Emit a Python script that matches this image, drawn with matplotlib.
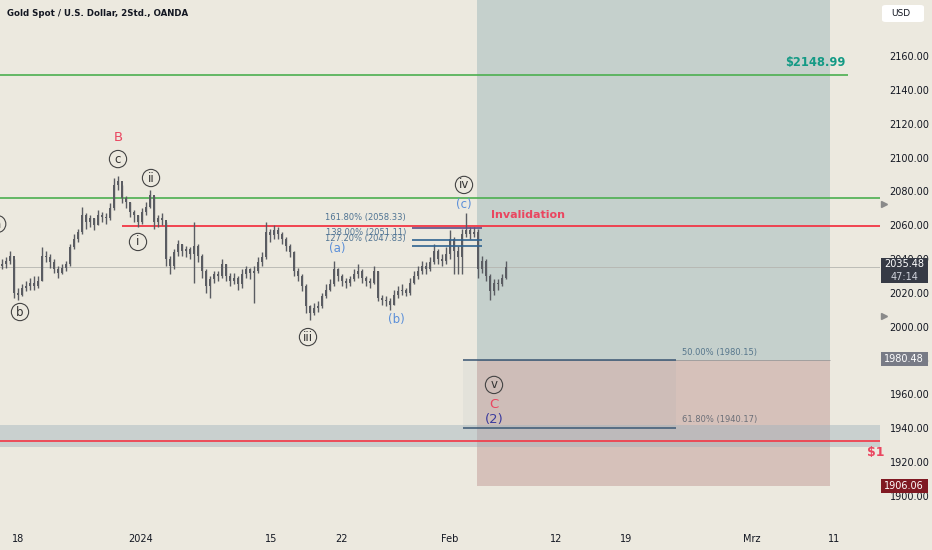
import numpy as np
import matplotlib
matplotlib.use('Agg')
import matplotlib.pyplot as plt
from matplotlib.patches import Rectangle, FancyBboxPatch
import matplotlib.transforms as mtransforms

# price bars (one bar ~ 4 px)
closes = [2037, 2039, 2042, 2020, 2019, 2023, 2024, 2026, 2024, 2027,
          2042, 2041, 2038, 2034, 2032, 2035, 2037, 2047, 2052, 2056,
          2066, 2062, 2064, 2060, 2066, 2065, 2064, 2070, 2084, 2086,
          2076, 2074, 2068, 2066, 2062, 2068, 2071, 2078, 2062, 2064,
          2063, 2040, 2036, 2044, 2049, 2045, 2046, 2043, 2048, 2042,
          2033, 2024, 2028, 2031, 2030, 2037, 2030, 2027, 2029, 2025,
          2031, 2034, 2032, 2033, 2038, 2041, 2056, 2054, 2057, 2055,
          2052, 2048, 2044, 2033, 2030, 2024, 2012, 2008, 2011, 2012,
          2018, 2022, 2025, 2034, 2030, 2027, 2026, 2028, 2031, 2033,
          2029, 2027, 2026, 2033, 2017, 2016, 2015, 2013, 2019, 2021,
          2022, 2020, 2026, 2030, 2033, 2036, 2034, 2038, 2045, 2040,
          2039, 2043, 2052, 2045, 2041, 2055, 2057, 2055, 2056, 2034,
          2039, 2030, 2021, 2026, 2025, 2029, 2035.48]
highs = [2040, 2041, 2045, 2040, 2023, 2025, 2027, 2029, 2030, 2030,
         2047, 2045, 2043, 2040, 2036, 2037, 2039, 2049, 2055, 2058,
         2071, 2067, 2066, 2064, 2069, 2068, 2067, 2073, 2088, 2089,
         2084, 2077, 2074, 2069, 2066, 2070, 2074, 2081, 2077, 2066,
         2067, 2062, 2042, 2046, 2051, 2049, 2048, 2047, 2062, 2049,
         2043, 2034, 2030, 2033, 2033, 2040, 2037, 2032, 2032, 2030,
         2034, 2036, 2035, 2036, 2041, 2044, 2062, 2058, 2060, 2059,
         2056, 2053, 2049, 2045, 2035, 2031, 2025, 2013, 2014, 2015,
         2020, 2025, 2028, 2039, 2035, 2031, 2029, 2030, 2034, 2037,
         2034, 2030, 2029, 2036, 2033, 2019, 2018, 2017, 2022, 2024,
         2025, 2023, 2029, 2033, 2036, 2039, 2038, 2041, 2049, 2046,
         2043, 2047, 2057, 2053, 2048, 2058, 2067, 2059, 2059, 2058,
         2042, 2040, 2031, 2028, 2028, 2031, 2039]
lows = [2034, 2035, 2037, 2017, 2016, 2018, 2021, 2022, 2022, 2023,
        2027, 2038, 2035, 2032, 2029, 2031, 2033, 2036, 2046, 2050,
        2055, 2058, 2059, 2057, 2060, 2062, 2061, 2063, 2069, 2081,
        2073, 2070, 2065, 2062, 2059, 2061, 2066, 2070, 2058, 2059,
        2060, 2036, 2031, 2034, 2042, 2042, 2041, 2040, 2026, 2038,
        2029, 2020, 2017, 2026, 2027, 2029, 2027, 2024, 2025, 2022,
        2023, 2029, 2028, 2014, 2032, 2036, 2040, 2050, 2052, 2052,
        2049, 2045, 2041, 2030, 2027, 2021, 2008, 2004, 2007, 2009,
        2011, 2017, 2021, 2024, 2027, 2024, 2023, 2024, 2027, 2029,
        2026, 2024, 2023, 2025, 2015, 2013, 2012, 2010, 2013, 2017,
        2019, 2018, 2019, 2025, 2028, 2031, 2031, 2033, 2037, 2037,
        2036, 2037, 2040, 2031, 2031, 2031, 2053, 2052, 2053, 2029,
        2032, 2027, 2016, 2019, 2022, 2024, 2028]

tick_pos = [4.0, 34.75, 67.25, 84.75, 112.0, 138.5, 156.0, 187.5, 208.0]
tick_labels = ['18', '2024', '15', '22', 'Feb', '12', '19', 'Mrz', '11']
price_ticks = [1900, 1920, 1940, 1960, 1980, 2000, 2020, 2040,
               2060, 2080, 2100, 2120, 2140, 2160]

target = 2148.99
resistance = 2076.1
invalidation = 2059.5
support = 1932.2
support_band = (1929.1, 1941.9)
entry = 1980.48
stop = 1906.06
last_price = 2035.48

fib_ext = [('161.80%', 2058.33), ('138.00%', 2051.11), ('127.20%', 2047.83)]
fib_ret = [('50.00%', 1980.15), ('61.80%', 1940.17)]

bg = '#ece9df'
green = '#4caf50'
red = '#f23645'
wave_blue = '#5b8fd9'
candle = '#5a5c62'

fig = plt.figure(figsize=(9.32, 5.5), dpi=100, facecolor=bg)
ax = fig.add_axes([0, 28 / 550, 880 / 932, 522 / 550], facecolor=bg)
ax.set_xlim(-0.5, 219.5)
ax.set_ylim(1884.6, 2193.1)
for s in ax.spines.values():
    s.set_visible(False)

# long position box
ax.add_patch(Rectangle((118.75, entry), 207 - 118.75, 2210 - entry,
                       fc='#c5d0cc', ec='none', zorder=0))
ax.add_patch(Rectangle((118.75, stop), 207 - 118.75, entry - stop,
                       fc='#d6c1ba', ec='none', zorder=0))
ax.hlines(entry, 118.75, 207, color='#9a9a9a', lw=0.6, zorder=1)

# fib retracement tint + band
ax.add_patch(Rectangle((115.25, 1940.17), 168.5 - 115.25, 1980.15 - 1940.17,
                       fc='#6f8aa0', alpha=0.07, ec='none', zorder=1))
ax.axhspan(support_band[0], support_band[1], color='#9fb3bd', alpha=0.45,
           lw=0, zorder=1)

# horizontal levels
ax.hlines(target, -0.5, 211.5, color=green, lw=1.2, zorder=3)
ax.axhline(resistance, color=green, lw=1.2, zorder=3)
ax.hlines(invalidation, 30, 219.5, color=red, lw=1.3, zorder=3)
ax.axhline(support, color=red, lw=1.2, zorder=3)
ax.axhline(last_price, color='#b5b5b0', lw=0.6, zorder=1)

# candles
closes = np.array(closes, dtype=float)
opens = np.concatenate([[2036.0], closes[:-1]])
xs = np.arange(len(closes))
ax.vlines(xs, lows, highs, color=candle, lw=1.0, zorder=4)
ax.bar(xs, np.maximum(np.abs(closes - opens), 0.8),
       bottom=np.minimum(opens, closes), width=0.55, color=candle,
       lw=0, zorder=4)

# fib extension lines
ext_cols = ['#5a4f86', '#2f6390', '#2f6390']
for (lab, val), col in zip(fib_ext, ext_cols):
    ax.hlines(val, 102.5, 120, color=col, lw=1.2, zorder=5)
ax.text(101, 2064.3, '161.80% (2058.33)', ha='right', va='center',
        fontsize=6.0, color='#4f7393', zorder=6)
ax.text(101, 2055.6, '138.00% (2051.11)', ha='right', va='center',
        fontsize=6.0, color='#4f7393', zorder=6)
ax.text(101, 2052.2, '127.20% (2047.83)', ha='right', va='center',
        fontsize=6.0, color='#4f7393', zorder=6)

# fib retracement lines
for lab, val in fib_ret:
    ax.hlines(val, 115.25, 168.5, color='#46607a', lw=1.2, zorder=5)
    ax.text(170, val + 4.8, '%s (%.2f)' % (lab, val), ha='left',
            va='center', fontsize=6.0,
            color='#56768c' if lab == '50.00%' else '#6b6f78', zorder=6)

# wave labels
circ = dict(boxstyle='circle,pad=0.18', fc='none', ec='#444444', lw=0.8)
circled = [('c', 29, 2099.1), ('ii', 37.25, 2087.9), ('i', 34, 2050.1),
           ('b', 4.5, 2008.7), ('a', -1.2, 2060.7), ('iii', 76.5, 1993.9),
           ('iv', 115.5, 2083.8), ('v', 123, 1965.6)]
for t, x, y in circled:
    ax.text(x, y, t, ha='center', va='center', fontsize=8.5,
            color='#333333', bbox=circ, zorder=7)
ax.text(29, 2112.1, 'B', ha='center', va='center', fontsize=9.5,
        color='#ea4660', zorder=7)
ax.text(123, 1954.3, 'C', ha='center', va='center', fontsize=9.5,
        color='#ea4660', zorder=7)
ax.text(123, 1944.9, '(2)', ha='center', va='center', fontsize=9.5,
        color='#3b3b9e', zorder=7)
ax.text(83.75, 2046.5, '(a)', ha='center', va='center', fontsize=8.5,
        color=wave_blue, zorder=7)
ax.text(98.5, 2004, '(b)', ha='center', va='center', fontsize=8.5,
        color=wave_blue, zorder=7)
ax.text(115.5, 2072.5, '(c)', ha='center', va='center', fontsize=8.5,
        color=wave_blue, zorder=7)
ax.text(122.25, 2066, 'Invalidation', ha='left', va='center',
        fontsize=8, fontweight='bold', color='#ea4660', zorder=7)
ax.text(210.75, 2155.9, '$2148.99', ha='right', va='center',
        fontsize=8.3, fontweight='bold', color='#149a85', zorder=7)
ax.text(216.3, 1925.4, '$1', ha='left', va='center', fontsize=9,
        fontweight='bold', color='#ea4660', zorder=7, clip_on=False)

# axes
ax.set_xticks(tick_pos)
ax.set_xticklabels(tick_labels)
ax.tick_params(axis='x', length=0, labelsize=7, labelcolor='#131722',
               pad=9)
ax.yaxis.tick_right()
ax.set_yticks(price_ticks)
ax.set_yticklabels(['%.2f' % p for p in price_ticks])
ax.tick_params(axis='y', length=0, labelsize=7, labelcolor='#131722',
               pad=7)

# price boxes on the scale
trans = mtransforms.blended_transform_factory(ax.transAxes, ax.transData)
boxes = [(2033.2, 14.8, '#363a45', ['2035.48', '47:14']),
         (1980.9, 8.6, '#787b86', ['1980.48']),
         (1905.9, 8.6, '#801922', ['1906.06'])]
for yc, h, col, texts in boxes:
    ax.add_patch(Rectangle((1.001, yc - h / 2), 0.053, h, transform=trans,
                           fc=col, ec='none', clip_on=False, zorder=8))
    if len(texts) == 1:
        ax.text(1.0275, yc, texts[0], transform=trans, ha='center',
                va='center', fontsize=7, color='white', zorder=9,
                clip_on=False)
    else:
        ax.text(1.0275, yc + 3.8, texts[0], transform=trans, ha='center',
                va='center', fontsize=7, color='white', zorder=9,
                clip_on=False)
        ax.text(1.0275, yc - 3.9, texts[1], transform=trans, ha='center',
                va='center', fontsize=7, color='#d0d3dc', zorder=9,
                clip_on=False)

ax.plot([1.004, 1.004], [2072.5, 2006.3], transform=trans, ls='none',
        marker='>', ms=5, color='#8a8a8a', clip_on=False, zorder=8)

# USD box and title
fig.patches.append(FancyBboxPatch((882 / 932, 1 - 22 / 550), 42 / 932,
                                  17 / 550, boxstyle='round,pad=0,rounding_size=0.004',
                                  transform=fig.transFigure, fc='white',
                                  ec='none'))
fig.text(891 / 932, 1 - 13 / 550, 'USD', ha='left', va='center',
         fontsize=6.5, color='#131722')
fig.text(7 / 932, 1 - 13 / 550, 'Gold Spot / U.S. Dollar, 2Std., OANDA',
         ha='left', va='center', fontsize=6.2, fontweight='bold',
         color='#131722')

fig.savefig('out.png', dpi=100, facecolor=bg)
